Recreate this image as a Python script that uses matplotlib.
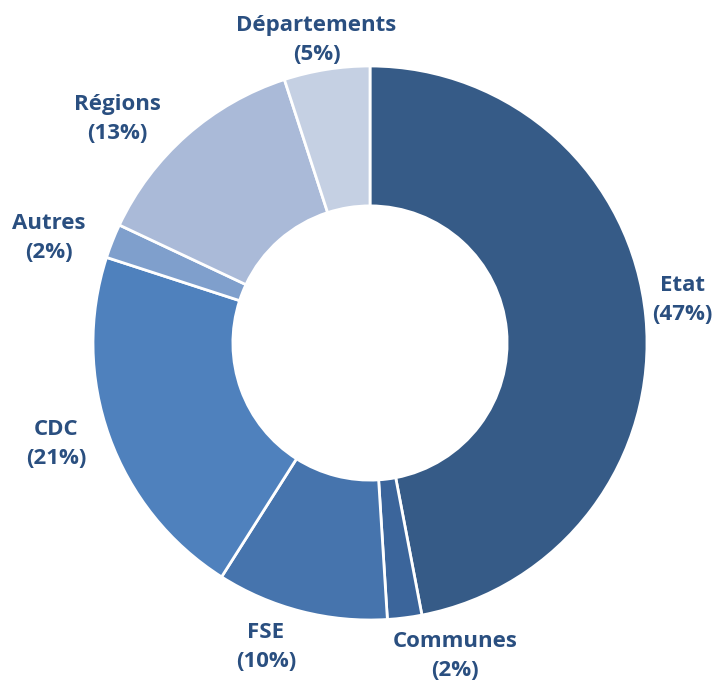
import numpy as np
import matplotlib.pyplot as plt

plt.rcParams["font.family"] = ["Open Sans", "DejaVu Sans"]

labels = ["Etat", "Communes", "FSE", "CDC", "Autres", "Régions", "Départements"]
shares = [47, 2, 10, 21, 2, 13, 5]
colors = ["#365b87", "#3b659b", "#4674ad", "#4f81bd", "#7f9fcc", "#aabad8", "#c5d0e3"]
# radial distance of each label (in units of outer radius)
label_dist = [1.14, 1.17, 1.16, 1.19, 1.22, 1.22, 1.11]
label_shift = [2.5, 8, -4.5, -2, 3.5, 7, 1]  # degrees

fig = plt.figure(figsize=(7.18, 6.82), dpi=100)
ax = fig.add_axes([0, 0, 1, 1])

R = 277.0
wedges, _ = ax.pie(shares, colors=colors, startangle=90, counterclock=False,
                   radius=1.0, wedgeprops=dict(width=0.505, edgecolor="white", linewidth=2))

for w, lab, val, d, sh in zip(wedges, labels, shares, label_dist, label_shift):
    mid = np.deg2rad((w.theta1 + w.theta2) / 2 + sh)
    x, y = d * np.cos(mid), d * np.sin(mid)
    ax.text(x, y, f"{lab}\n({val}%)", ha="center", va="center",
            fontsize=16, fontweight="bold", color="#2a4f80", linespacing=1.5)

ax.set_xlim(-370 / R, (718 - 370) / R)
ax.set_ylim(-339 / R, 343 / R)
ax.set_aspect("auto")
ax.axis("off")

fig.savefig("out.png", dpi=100)
